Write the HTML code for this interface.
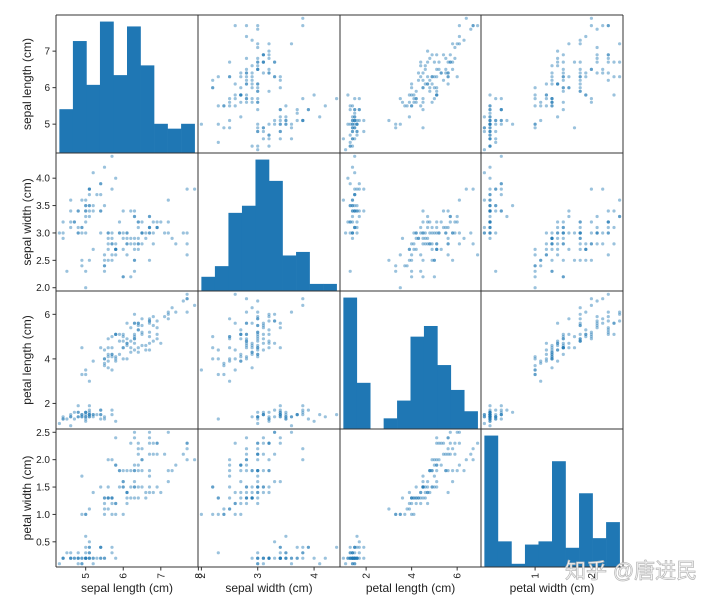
<!DOCTYPE html>
<html><head><meta charset="utf-8"><style>
body{margin:0;background:#fff;width:720px;height:600px;overflow:hidden}
svg text{font-family:"Liberation Sans","DejaVu Sans",sans-serif;fill:#222}
</style></head><body>
<svg id="s" width="720" height="600" xmlns="http://www.w3.org/2000/svg"></svg>
<script>
var raw="51 35 14 2,49 30 14 2,47 32 13 2,46 31 15 2,50 36 14 2,54 39 17 4,46 34 14 3,50 34 15 2,44 29 14 2,49 31 15 1,54 37 15 2,48 34 16 2,48 30 14 1,43 30 11 1,58 40 12 2,57 44 15 4,54 39 13 4,51 35 14 3,57 38 17 3,51 38 15 3,54 34 17 2,51 37 15 4,46 36 10 2,51 33 17 5,48 34 19 2,50 30 16 2,50 34 16 4,52 35 15 2,52 34 14 2,47 32 16 2,48 31 16 2,54 34 15 4,52 41 15 1,55 42 14 2,49 31 15 2,50 32 12 2,55 35 13 2,49 36 14 1,44 30 13 2,51 34 15 2,50 35 13 3,45 23 13 3,44 32 13 2,50 35 16 6,51 38 19 4,48 30 14 3,51 38 16 2,46 32 14 2,53 37 15 2,50 33 14 2,70 32 47 14,64 32 45 15,69 31 49 15,55 23 40 13,65 28 46 15,57 28 45 13,63 33 47 16,49 24 33 10,66 29 46 13,52 27 39 14,50 20 35 10,59 30 42 15,60 22 40 10,61 29 47 14,56 29 36 13,67 31 44 14,56 30 45 15,58 27 41 10,62 22 45 15,56 25 39 11,59 32 48 18,61 28 40 13,63 25 49 15,61 28 47 12,64 29 43 13,66 30 44 14,68 28 48 14,67 30 50 17,60 29 45 15,57 26 35 10,55 24 38 11,55 24 37 10,58 27 39 12,60 27 51 16,54 30 45 15,60 34 45 16,67 31 47 15,63 23 44 13,56 30 41 13,55 25 40 13,55 26 44 12,61 30 46 14,58 26 40 12,50 23 33 10,56 27 42 13,57 30 42 12,57 29 42 13,62 29 43 13,51 25 30 11,57 28 41 13,63 33 60 25,58 27 51 19,71 30 59 21,63 29 56 18,65 30 58 22,76 30 66 21,49 25 45 17,73 29 63 18,67 25 58 18,72 36 61 25,65 32 51 20,64 27 53 19,68 30 55 21,57 25 50 20,58 28 51 24,64 32 53 23,65 30 55 18,77 38 67 22,77 26 69 23,60 22 50 15,69 32 57 23,56 28 49 20,77 28 67 20,63 27 49 18,67 33 57 21,72 32 60 18,62 28 48 18,61 30 49 18,64 28 56 21,72 30 58 16,74 28 61 19,79 38 64 20,64 28 56 22,63 28 51 15,61 26 56 14,77 30 61 23,63 34 56 24,64 31 55 18,60 30 48 18,69 31 54 21,67 31 56 24,69 31 51 23,58 27 51 19,68 32 59 23,67 33 57 25,67 30 52 23,63 25 50 19,65 30 52 20,62 34 54 23,59 30 51 18";
var D=raw.split(",").map(function(r){return r.split(" ").map(function(v){return +v/10;});});
var names=["sepal length (cm)","sepal width (cm)","petal length (cm)","petal width (cm)"];
var X0=[56,198,340,481,623],Y0=[15,153,291,429,567];
var lims=[],mm=[];
for(var k=0;k<4;k++){var mn=1e9,mx=-1e9;D.forEach(function(r){mn=Math.min(mn,r[k]);mx=Math.max(mx,r[k]);});mm.push([mn,mx]);var e=(mx-mn)*0.025;lims.push([mn-e,mx+e]);}
var ticksY=[[5,6,7],[2,2.5,3,3.5,4],[2,4,6],[0.5,1,1.5,2,2.5]];
var tickYlab=[["5","6","7"],["2.0","2.5","3.0","3.5","4.0"],["2","4","6"],["0.5","1.0","1.5","2.0","2.5"]];
var ticksX=[[5,6,7,8],[2,3,4],[2,4,6],[1,2]];
var o="";
function px(k,v,j){return X0[j]+(v-lims[k][0])/(lims[k][1]-lims[k][0])*(X0[j+1]-X0[j]);}
function py(k,v,i){return Y0[i+1]-(v-lims[k][0])/(lims[k][1]-lims[k][0])*(Y0[i+1]-Y0[i]);}
for(var i=0;i<4;i++)for(var j=0;j<4;j++){
 if(i==j){
  var mn=mm[i][0],mx=mm[i][1],w=(mx-mn)/10,c=[0,0,0,0,0,0,0,0,0,0];
  D.forEach(function(r){var b=Math.floor((r[i]-mn)/w+1e-9);if(b>9)b=9;c[b]++;});
  var cm=Math.max.apply(null,c),H=Y0[i+1]-Y0[i];
  for(var b=0;b<10;b++){var xa=px(i,mn+b*w,j),xb=px(i,mn+(b+1)*w,j),h=c[b]/(cm*1.05)*H;
   o+='<rect x="'+xa.toFixed(2)+'" y="'+(Y0[i+1]-h).toFixed(2)+'" width="'+(xb-xa+0.3).toFixed(2)+'" height="'+h.toFixed(2)+'" fill="#1f77b4"/>';}
 } else {
  D.forEach(function(r){o+='<circle cx="'+px(j,r[j],j).toFixed(1)+'" cy="'+py(i,r[i],i).toFixed(1)+'" r="1.6" fill="#1f77b4" fill-opacity="0.45"/>';});
 }
}
// grid lines
for(var a=0;a<5;a++){o+='<line x1="'+X0[a]+'" y1="15" x2="'+X0[a]+'" y2="567" stroke="#333" stroke-width="1"/>';
 o+='<line x1="56" y1="'+Y0[a]+'" x2="623" y2="'+Y0[a]+'" stroke="#333" stroke-width="1"/>';}
// y ticks
for(var i=0;i<4;i++){ticksY[i].forEach(function(t,n){var y=py(i,t,i);
 o+='<line x1="52.5" y1="'+y+'" x2="56" y2="'+y+'" stroke="#333"/>';
 o+='<text x="50" y="'+(y+3.5)+'" font-size="10" text-anchor="end">'+tickYlab[i][n]+'</text>';});
 var cy=(Y0[i]+Y0[i+1])/2;
 o+='<text transform="translate(31,'+cy+') rotate(-90)" font-size="12" text-anchor="middle">'+names[i]+'</text>';}
// x ticks
for(var j=0;j<4;j++){ticksX[j].forEach(function(t){var x=px(j,t,j);
 o+='<line x1="'+x+'" y1="567" x2="'+x+'" y2="570.5" stroke="#333"/>';
 o+='<text transform="translate('+(x+3.5)+',573) rotate(-90)" font-size="10" text-anchor="end">'+t+'</text>';});
 var cx=(X0[j]+X0[j+1])/2;
 o+='<text x="'+cx+'" y="592" font-size="12" text-anchor="middle">'+names[j]+'</text>';}
o+='<text x="565" y="578" font-size="21" style="fill:#fff;stroke:#bbb;stroke-width:0.8;font-family:\'Liberation Sans\',\'Noto Sans CJK SC\',sans-serif">知乎 @唐进民</text>';
document.getElementById("s").innerHTML=o;
</script>
</body></html>
